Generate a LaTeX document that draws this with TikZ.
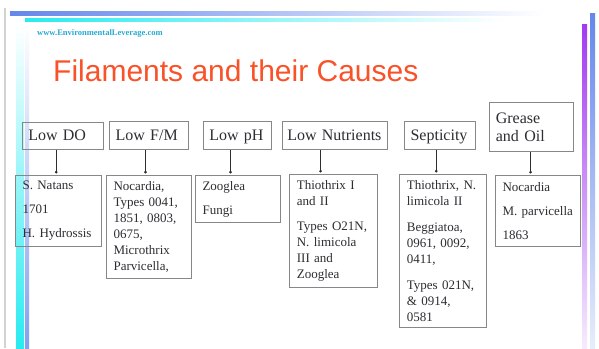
\documentclass[tikz,border=0pt]{standalone}
\usepackage{fontspec}
\setmainfont{Liberation Serif}
\newfontfamily\titlefont{Liberation Sans}
\usetikzlibrary{arrows.meta}

\definecolor{titlered}{RGB}{250,82,40}
\definecolor{boxgray}{RGB}{135,135,135}
\definecolor{textgray}{RGB}{45,45,50}
\definecolor{urlcyan}{RGB}{40,170,210}
\definecolor{barblue}{RGB}{100,135,235}
\definecolor{barcyan}{RGB}{40,235,240}
\definecolor{barpurple}{RGB}{160,60,240}

\tikzset{
	cause/.style={draw=boxgray, line width=1.1pt, text=textgray, font=\fontsize{16}{18}\selectfont, align=left, inner xsep=6pt, inner ysep=0pt, anchor=south west},
	filament/.style={draw=boxgray, line width=1.1pt, text=textgray, font=\fontsize{13}{16}\selectfont, align=left, inner xsep=7pt, inner ysep=0pt, anchor=north west},
	link/.style={draw=textgray, line width=0.8pt, -{Circle[length=2.6pt]}, shorten >=1.5pt}
}

\begin{document}
\begin{tikzpicture}[x=1pt, y=-1pt]
	\useasboundingbox (0,0) rectangle (599,348);
	\fill[white] (0,0) rectangle (599,348);
	
	\draw[gray!35, line width=1.2pt] (5,8) -- (5,348);
	\shade[left color=barblue, right color=white] (10,11) rectangle (545,15);
	\shade[left color=barcyan, right color=white] (25,18) rectangle (505,21);
	\shade[top color=white, bottom color=barcyan] (16,24) rectangle (24,348);
	\shade[top color=white, bottom color=barblue!80] (25,24) rectangle (29,348);
	\shade[top color=barpurple, bottom color=barpurple!10] (582,24) rectangle (587,348);
	\shade[top color=barblue, bottom color=barblue!15] (590,13) rectangle (595,348);
	
	\node[anchor=base west, inner sep=0pt, text=urlcyan, font=\bfseries\fontsize{8.5}{10}\selectfont] (url) at (37,35) {www.EnvironmentalLeverage.com};
	\node[anchor=base west, inner sep=0pt, text=titlered, font=\titlefont\fontsize{30}{36}\selectfont] (title) at (53,81) {Filaments and their Causes};
	
	\node[cause, text width=69pt, minimum height=27pt, text height=11pt, text depth=1.5pt] (hdo) at (21.7,150) {Low DO};
	\node[cause, text width=66.7pt, minimum height=28.3pt, text height=11pt, text depth=1.5pt] (hfm) at (109,150) {Low F/M};
	\node[cause, text width=56.3pt, minimum height=28.3pt, text height=11pt, text depth=1.5pt] (hph) at (202.7,150) {Low pH};
	\node[cause, inner xsep=5pt, text width=95pt, minimum height=28.3pt, text height=11pt, text depth=1.5pt] (hnu) at (281.7,150) {Low Nutrients};
	\node[cause, text width=59pt, minimum height=28.3pt, text height=11pt, text depth=1.5pt] (hse) at (404,150) {Septicity};
	\node[cause, text width=71.4pt, minimum height=49pt] (hgo) at (489.3,152.3) {Grease\\and Oil};
	
	\node[filament, text width=71.7pt, minimum height=71pt] (cdo) at (15,175) {S. Natans\\[8pt]1701\\[8pt]H. Hydrossis};
	\node[filament, text width=71pt, minimum height=103pt] (cfm) at (106,175) {Nocardia,\\Types 0041,\\1851, 0803,\\0675,\\Microthrix\\Parvicella,};
	\node[filament, text width=71pt, minimum height=47pt] (cph) at (195,175) {Zooglea\\[8pt]Fungi};
	\node[filament, text width=73.4pt, minimum height=113pt] (cnu) at (289.3,174) {Thiothrix I\\and II\\[9pt]Types O21N,\\N. limicola\\III and\\Zooglea};
	\node[filament, text width=72.4pt, minimum height=153pt] (cse) at (399.3,174) {Thiothrix, N.\\limicola II\\[10pt]Beggiatoa,\\0961, 0092,\\0411,\\[10pt]Types 021N,\\\& 0914,\\0581};
	\node[filament, text width=71pt, minimum height=71pt] (cgo) at (495,175) {Nocardia\\[8pt]M. parvicella\\[8pt]1863};
	
	\draw[link] ([xshift=-6.5pt]hdo.south) -- ([xshift=-6.5pt]hdo.south |- cdo.north);
	\draw[link] ([xshift=-3.4pt]hfm.south) -- ([xshift=-3.4pt]hfm.south |- cfm.north);
	\draw[link] ([xshift=-6.9pt]hph.south) -- ([xshift=-6.9pt]hph.south |- cph.north);
	\draw[link] ([xshift=-14.2pt]hnu.south) -- ([xshift=-14.2pt]hnu.south |- cnu.north);
	\draw[link] ([xshift=-3.8pt]hse.south) -- ([xshift=-3.8pt]hse.south |- cse.north);
	\draw[link] ([xshift=-1pt]hgo.south) -- ([xshift=-1pt]hgo.south |- cgo.north);
\end{tikzpicture}
\end{document}
